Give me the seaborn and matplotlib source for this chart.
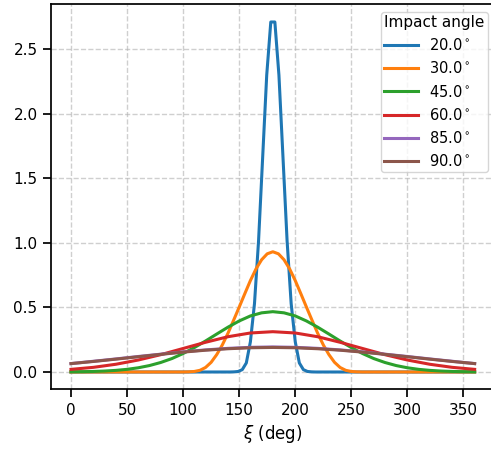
import matplotlib
matplotlib.use("Agg")
import matplotlib.pyplot as plt
import seaborn as sns
import pandas as pd

sns.set_context("notebook")

# Impact angles (legend labels)
angles = ["20.0$^\\circ$", "30.0$^\\circ$", "45.0$^\\circ$", "60.0$^\\circ$", "85.0$^\\circ$", "90.0$^\\circ$"]

# 20 deg series (sampled on the original 100-point grid near the peak)
x20 = [0.0, 141.82, 145.45, 149.09, 152.73, 156.36, 160.00, 163.64, 167.27, 170.91, 174.55,
       178.18, 181.82, 185.45, 189.09, 192.73, 196.36, 200.00, 203.64, 207.27, 210.91,
       214.55, 218.18, 360.0]
y20 = [0.0, 0.0, 0.001, 0.004, 0.018, 0.07, 0.234, 0.529, 1.015, 1.657, 2.298,
       2.71, 2.71, 2.298, 1.657, 1.015, 0.529, 0.234, 0.07, 0.018, 0.004,
       0.001, 0.0, 0.0]

# 30 deg series
x30 = [0, 100, 105, 110, 115, 120, 125, 130, 135, 140, 145, 150, 155, 160, 165, 170, 175,
       180, 185, 190, 195, 200, 205, 210, 215, 220, 225, 230, 235, 240, 245, 250, 255, 260, 360]
y30 = [0.0, 0.0, 0.001, 0.004, 0.013, 0.035, 0.075, 0.135, 0.21, 0.30, 0.40, 0.502,
       0.606, 0.708, 0.798, 0.869, 0.915,
       0.931,
       0.915, 0.869, 0.798, 0.708, 0.606, 0.502, 0.40, 0.30, 0.21, 0.135, 0.075,
       0.035, 0.013, 0.004, 0.001, 0.0, 0.0]

# 45 deg series
x45 = [0, 10, 20, 30, 40, 50, 60, 70, 80, 90, 100, 110, 120, 130, 140, 150, 160, 170,
       180, 190, 200, 210, 220, 230, 240, 250, 260, 270, 280, 290, 300, 310, 320, 330, 340, 350, 360]
y45 = [0.0012, 0.0022, 0.0041, 0.0073, 0.0125, 0.0205, 0.0326, 0.0498, 0.0735, 0.104, 0.143,
       0.189, 0.240, 0.294, 0.347, 0.395, 0.434, 0.458,
       0.467, 0.458, 0.434, 0.395, 0.347, 0.294, 0.240, 0.189, 0.143, 0.104, 0.0735,
       0.0498, 0.0326, 0.0205, 0.0125, 0.0073, 0.0041, 0.0022, 0.0012]

# 60 deg series
x60 = [0, 20, 40, 60, 80, 100, 120, 140, 160, 180, 200, 220, 240, 260, 280, 300, 320, 340, 360]
y60 = [0.0203, 0.036, 0.0598, 0.0927, 0.134, 0.182, 0.230, 0.273, 0.302, 0.312,
       0.302, 0.273, 0.230, 0.182, 0.134, 0.0927, 0.0598, 0.036, 0.0203]

# 85 deg series
x85 = [0, 20, 40, 60, 80, 100, 120, 140, 160, 180, 200, 220, 240, 260, 280, 300, 320, 340, 360]
y85 = [0.065, 0.083, 0.101, 0.120, 0.138, 0.156, 0.171, 0.183, 0.191, 0.194,
       0.191, 0.183, 0.171, 0.156, 0.138, 0.120, 0.101, 0.083, 0.065]

# 90 deg series
x90 = [0, 20, 40, 60, 80, 100, 120, 140, 160, 180, 200, 220, 240, 260, 280, 300, 320, 340, 360]
y90 = [0.065, 0.0815, 0.0994, 0.118, 0.1365, 0.1538, 0.1687, 0.180, 0.1875, 0.190,
       0.1875, 0.180, 0.1687, 0.1538, 0.1365, 0.118, 0.0994, 0.0815, 0.065]

xs = [x20, x30, x45, x60, x85, x90]
ys = [y20, y30, y45, y60, y85, y90]

frames = []
for lab, xv, yv in zip(angles, xs, ys):
    frames.append(pd.DataFrame({"xi": xv, "val": yv, "Impact angle": lab}))
df = pd.concat(frames, ignore_index=True)

colors = ["#1f77b4", "#ff7f0e", "#2ca02c", "#d62728", "#9467bd", "#8c564b"]

fig = plt.figure(figsize=(4.91, 4.54), dpi=100)
ax = fig.add_axes([0.1035, 0.1421, 0.9043, 0.848])
sns.lineplot(data=df, x="xi", y="val", hue="Impact angle", hue_order=angles,
             palette=colors, estimator=None, sort=False, linewidth=2.2, ax=ax)
ax.margins(x=0.05, y=0.05)
ax.set_xticks([0, 50, 100, 150, 200, 250, 300, 350])
ax.set_yticks([0.0, 0.5, 1.0, 1.5, 2.0, 2.5])
ax.set_xlabel("$\\xi$ (deg)")
ax.set_ylabel("")
ax.grid(True, linestyle="--", color="#b0b0b0", alpha=0.6, linewidth=1.0)
ax.set_axisbelow(True)
sns.move_legend(ax, "upper right", title="Impact angle", fontsize=10.5, title_fontsize=11,
                handlelength=2.3, borderpad=0.2, alignment="left")
for line in ax.get_legend().get_lines():
    line.set_linewidth(2.2)
fig.savefig("out.png", dpi=100)
